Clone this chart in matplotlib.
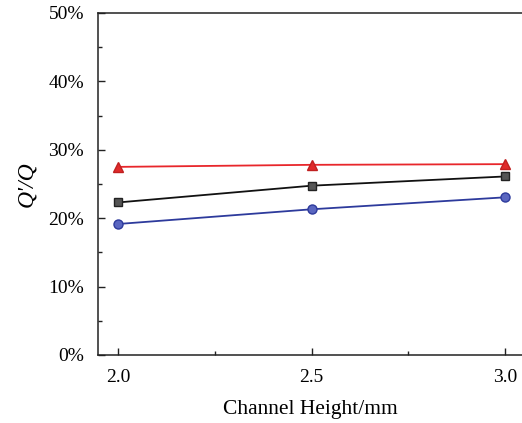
import matplotlib.pyplot as plt
from matplotlib.ticker import MultipleLocator, PercentFormatter

# Channel heights (mm) and flow ratio Q'/Q (%) for each case
heights = [2.0, 2.5, 3.0]
ratio_triangle = [27.5, 27.8, 27.9]
ratio_square = [22.3, 24.75, 26.1]
ratio_circle = [19.15, 21.3, 23.05]

plt.rcParams['font.family'] = ['Liberation Serif', 'DejaVu Serif']

fig = plt.figure(figsize=(5.22, 4.23), dpi=100)
ax = fig.add_axes([0.1877, 0.1608, 0.8123, 0.8085])

ax.plot(heights, ratio_triangle, color='#e8262b', lw=1.3, marker='^', ms=7.5,
        mfc='#e02a2a', mec='#c02020')
ax.plot(heights, ratio_square, color='#111111', lw=1.3, marker='s', ms=5.5,
        mfc='#555555', mec='#222222')
ax.plot(heights, ratio_circle, color='#2d3a9c', lw=1.3, marker='o', ms=6.5,
        mfc='#5a66c0', mec='#2d3a9c')

ax.set_xlim(1.948, 3.044)
ax.set_ylim(0, 50)
ax.xaxis.set_major_locator(MultipleLocator(0.5))
ax.xaxis.set_minor_locator(MultipleLocator(0.25))
ax.yaxis.set_major_locator(MultipleLocator(10))
ax.yaxis.set_minor_locator(MultipleLocator(5))
ax.yaxis.set_major_formatter(PercentFormatter(decimals=0))
ax.xaxis.set_major_formatter(lambda v, p: f'{v:.1f}')

ax.spines['right'].set_visible(False)
for s in ['left', 'bottom', 'top']:
    ax.spines[s].set_linewidth(1.1)
    ax.spines[s].set_color('#222222')

ax.tick_params(which='both', direction='in', labelsize=14, width=1.0,
               color='#222222', right=False, top=False)
ax.tick_params(which='major', length=5, pad=10)
ax.tick_params(which='minor', length=3)

ax.set_xlabel('Channel Height/mm', fontsize=15.5, labelpad=10)
ax.set_ylabel("Q'/Q", fontsize=17, style='italic', labelpad=8)

fig.savefig('out.png', dpi=100)
